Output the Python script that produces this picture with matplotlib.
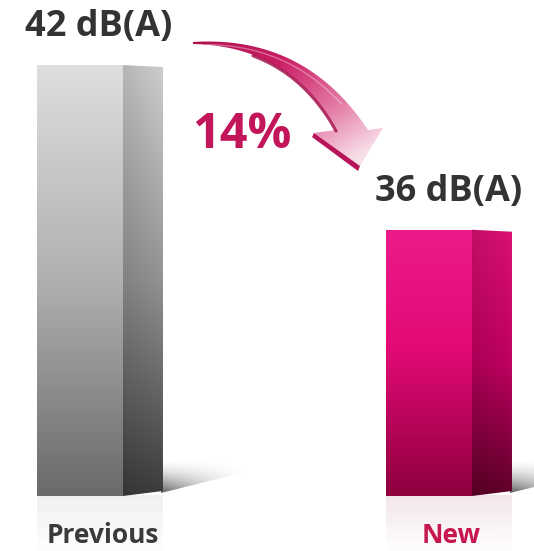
import numpy as np
import matplotlib
matplotlib.use("Agg")
import matplotlib.pyplot as plt
from matplotlib.patches import Polygon
from matplotlib.colors import to_rgb

# ---- data -------------------------------------------------------------
categories = ["Previous", "New"]
levels_db = [42, 36]
unit = "dB(A)"
change_label = "14%"

BASE = 26.3          # floor of the value axis
FONT = "Open Sans"

# ---- figure / axes ----------------------------------------------------
fig = plt.figure(figsize=(5.34, 5.51), dpi=100)
ax = fig.add_axes([0, 0, 1, 1])
ax.set_xlim(-0.2292, 1.3009)
ax.set_ylim(24.296, 44.369)
ax.axis("off")

PX = 349.0            # pixels per x unit
PY = 27.45            # pixels per dB
W = 86 / PX           # front face width
D = 40 / PX           # side face depth


def ramp(stops, t):
    t = np.asarray(t, float)
    pos = [p for p, _ in stops]
    cols = np.array([to_rgb(c) for _, c in stops])
    return np.stack([np.interp(t, pos, cols[:, k]) for k in range(3)], axis=-1)


def paint(axis, img, extent, clip, z):
    im = axis.imshow(img, extent=extent, origin="upper", aspect="auto",
                     interpolation="bilinear", zorder=z)
    im.set_clip_path(clip)
    return im


styles = {
    "Previous": dict(front=[(0, "#dedede"), (0.5, "#b0b0b0"), (1, "#6a6a6a")],
                     side=[(0, "#c2c2c2"), (0.5, "#8a8a8a"), (1, "#383838")],
                     label="#3a3a3a"),
    "New": dict(front=[(0, "#ec1a8a"), (0.45, "#e20a76"), (1, "#8e003d")],
                side=[(0, "#cf0f6c"), (0.5, "#b5005a"), (1, "#580026")],
                label="#c8174f"),
}

xs = np.arange(len(categories))
bars = ax.bar(xs, np.array(levels_db) - BASE, bottom=BASE, width=W,
              color="none", edgecolor="none", zorder=3)

for x, v, cat, bar in zip(xs, levels_db, categories, bars):
    st = styles[cat]
    xl, xr = x - W / 2, x + W / 2
    xd = xr + D

    # front face: vertical shading
    t = np.linspace(0, 1, 200)[:, None]
    img = ramp(st["front"], np.repeat(t, 4, axis=1))
    paint(ax, img, (xl, xr, BASE, v), bar, 3)

    # side face: perspective parallelogram with 2-D shading
    side = Polygon([(xr, v), (xd, v - 2 / PY), (xd, BASE + 5 / PY), (xr, BASE)],
                   closed=True, facecolor="none", edgecolor="none", zorder=3)
    ax.add_patch(side)
    tt, ss = np.meshgrid(np.linspace(0, 1, 200), np.linspace(0, 1, 40), indexing="ij")
    img = ramp(st["side"], tt) * (0.94 + 0.12 * ss[..., None])
    paint(ax, np.clip(img, 0, 1), (xr, xd, BASE, v), side, 3)

    # soft floor shadow cast up and to the right
    sl, sr = xd - 2 / PX, xd + 82 / PX
    sh = Polygon([(sl, BASE + 3 / PY), (sl, BASE + 37 / PY),
                  (sr, BASE + 37 / PY), (sr, BASE + 24 / PY)],
                 closed=True, facecolor="none", edgecolor="none", zorder=2)
    ax.add_patch(sh)
    uu, vv = np.meshgrid(np.linspace(0, 1, 80), np.linspace(0, 1, 60))
    alpha = 0.8 * (1 - uu) ** 1.1 * vv ** 1.6
    rgba = np.zeros(uu.shape + (4,))
    rgba[..., :3] = 0.22
    rgba[..., 3] = alpha
    paint(ax, rgba, (sl, sr, BASE + 3 / PY, BASE + 37 / PY), sh, 2)

    # faint floor reflection
    ref = Polygon([(xl, BASE), (xd, BASE + 5 / PY), (xd, BASE - 60 / PY), (xl, BASE - 60 / PY)],
                  closed=True, facecolor="none", edgecolor="none", zorder=1)
    ax.add_patch(ref)
    r = np.zeros((60, 2, 4))
    r[..., :3] = np.array(to_rgb(st["front"][-1][1]))
    r[..., 3] = np.linspace(0.10, 0.0, 60)[:, None]
    paint(ax, r, (xl, xd, BASE - 60 / PY, BASE), ref, 1)

    # value label and category label
    ax.text(x + 0.055, v + 1.05, f"{v} {unit}", ha="center", va="baseline",
            fontsize=26, fontweight="bold", family=FONT, color="#333333", zorder=5)
    ax.text(x + 0.065, BASE - 47 / PY, cat, ha="center", va="baseline",
            fontsize=19, fontweight="bold", family=FONT, color=st["label"], zorder=5)

ax.set_xlim(-0.2292, 1.3009)
ax.set_ylim(24.296, 44.369)

# ---- curved change arrow (pixel overlay) ------------------------------
ov = fig.add_axes([0, 0, 1, 1], facecolor="none")
ov.set_xlim(0, 534)
ov.set_ylim(551, 0)
ov.axis("off")


def bez(p0, p1, p2, n=60):
    t = np.linspace(0, 1, n)[:, None]
    return (1 - t) ** 2 * np.array(p0) + 2 * (1 - t) * t * np.array(p1) + t ** 2 * np.array(p2)


outer = bez((193, 42), (305, 35), (368, 130))
inner = bez((193, 44), (290, 46), (336, 130))
head = np.array([(383, 128), (360, 166), (314, 133)])
pts = np.vstack([outer, head, inner[::-1]])
arrow = Polygon(pts, closed=True, facecolor="none", edgecolor="none", zorder=4)
ov.add_patch(arrow)

gx, gy = np.meshgrid(np.linspace(185, 390, 220), np.linspace(30, 175, 160))
g = np.clip(((gx - 195) * 0.55 + (gy - 40) * 0.85) / 190, 0, 1)
img = ramp([(0, "#b3104e"), (0.35, "#cc1f66"), (0.7, "#e47aa5"), (1, "#f8e0ea")], g)
paint(ov, img, (185, 390, 175, 30), arrow, 4)

# darker extruded edges
ov.plot(inner[20:, 0], inner[20:, 1] + 1, color="#a3104a", lw=2.2, alpha=0.85,
        solid_capstyle="round", zorder=5)
edge = Polygon([(314, 133), (360, 166), (358, 171), (312, 137)], closed=True,
               facecolor="#b8145a", edgecolor="none", zorder=5)
ov.add_patch(edge)
ov.plot(outer[5:50, 0] - 4, outer[5:50, 1] + 3, color="white", lw=1.0, alpha=0.35, zorder=5)

ov.text(242, 148, change_label, ha="center", va="baseline", fontsize=35,
        fontweight="bold", family=FONT, color="#c2155a", zorder=6)

fig.savefig("out.png", dpi=100)
